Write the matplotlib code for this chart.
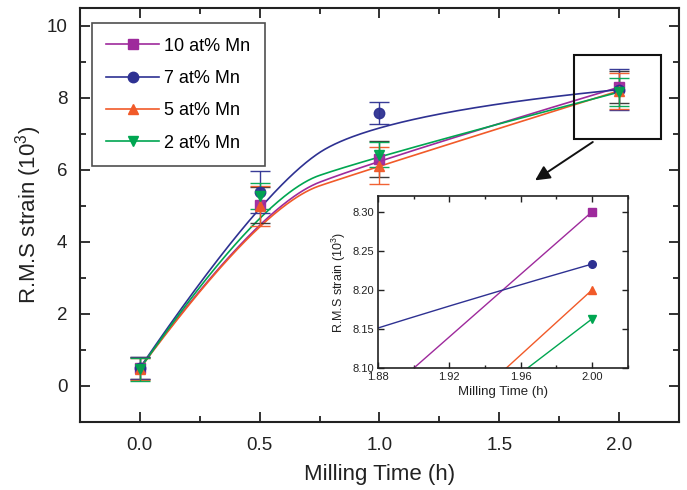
import numpy as np
import matplotlib
matplotlib.use("Agg")
import matplotlib.pyplot as plt
from matplotlib.lines import Line2D
from matplotlib.patches import Rectangle
from matplotlib.ticker import MultipleLocator

plt.rcParams["font.family"] = ["Liberation Sans", "DejaVu Sans"]
plt.rcParams["mathtext.fontset"] = "custom"
plt.rcParams["mathtext.rm"] = "Liberation Sans"
plt.rcParams["mathtext.default"] = "regular"

# ── Data ──
milling_time = [0.0, 0.5, 1.0, 2.0]
labels = ["10 at% Mn", "7 at% Mn", "5 at% Mn", "2 at% Mn"]
strain_10 = [0.50, 5.02, 6.30, 8.300]
strain_7 = [0.50, 5.39, 7.58, 8.233]
strain_5 = [0.48, 5.00, 6.12, 8.200]
strain_2 = [0.47, 5.28, 6.42, 8.163]
err_10 = [0.30, 0.50, 0.50, 0.45]
err_7 = [0.30, 0.58, 0.30, 0.57]
err_5 = [0.30, 0.55, 0.52, 0.50]
err_2 = [0.32, 0.37, 0.35, 0.38]

colors = ["#9E2A9C", "#2E3192", "#F15A29", "#00A651"]
err_colors = ["#333333", "#2E3192", "#F15A29", "#00A651"]
markers = ["s", "o", "^", "v"]
series = [strain_10, strain_7, strain_5, strain_2]
errors = [err_10, err_7, err_5, err_2]


def bspline2(xs, ys, n=120):
    """Clamped quadratic B-spline with the data points as control points."""
    pts = np.column_stack([xs, ys]).astype(float)
    mids = [(pts[i] + pts[i + 1]) / 2 for i in range(1, len(pts) - 2)]
    starts = [pts[0]] + mids
    ends = mids + [pts[-1]]
    s = np.linspace(0, 1, n)[:, None]
    out = []
    for k in range(len(starts)):
        p0, p1, p2 = starts[k], pts[k + 1], ends[k]
        out.append((1 - s) ** 2 * p0 + 2 * s * (1 - s) * p1 + s ** 2 * p2)
    curve = np.vstack(out)
    return curve[:, 0], curve[:, 1]


fig = plt.figure(figsize=(6.87, 4.90), dpi=100)
ax = fig.add_axes([0.1164, 0.1388, 0.8719, 0.8449])

for ys, es, c, ec, m in zip(series, errors, colors, err_colors, markers):
    cx, cy = bspline2(milling_time, ys)
    ax.plot(cx, cy, color=c, linewidth=1.2, zorder=2)
    ax.errorbar(milling_time, ys, yerr=es, fmt=m, color=c, ecolor=ec,
                markersize=7.5, elinewidth=1.0, capsize=7, capthick=1.0,
                alpha=0.95, zorder=3)

ax.set_xlim(-0.25, 2.25)
ax.set_ylim(-1.0, 10.5)
ax.xaxis.set_major_locator(MultipleLocator(0.5))
ax.xaxis.set_minor_locator(MultipleLocator(0.25))
ax.yaxis.set_major_locator(MultipleLocator(2))
ax.yaxis.set_minor_locator(MultipleLocator(1))
ax.tick_params(which="both", direction="in", top=True, right=True,
               width=1.3, colors="#222222", labelcolor="#222222")
ax.tick_params(which="major", length=7, labelsize=13.5)
ax.tick_params(axis="x", which="major", pad=11)
ax.tick_params(axis="y", which="major", pad=9)
ax.tick_params(which="minor", length=4)
for sp in ax.spines.values():
    sp.set_linewidth(1.5)
    sp.set_color("#222222")
ax.set_xlabel("Milling Time (h)", fontsize=16, color="#222222", labelpad=7)
ax.set_ylabel("R.M.S strain (10$^3$)", fontsize=16, color="#222222", labelpad=2)

handles = [Line2D([], [], color=c, marker=m, markersize=7.5, linewidth=1.2)
           for c, m in zip(colors, markers)]
ax.legend(handles, labels, loc="upper left", bbox_to_anchor=(0.02, 0.963),
          borderaxespad=0, fontsize=13, frameon=True, fancybox=False,
          edgecolor="#222222", handlelength=2.9, labelspacing=0.85,
          borderpad=0.8, handletextpad=0.3).get_frame().set_linewidth(1.2)

# zoom box and arrow
ax.add_patch(Rectangle((1.81, 6.86), 0.365, 2.33, fill=False,
                       edgecolor="#111111", linewidth=1.5, zorder=4))
ax.annotate("", xy=(1.64, 5.67), xytext=(1.90, 6.82),
            arrowprops=dict(arrowstyle="-|>", color="#111111", lw=1.4,
                            mutation_scale=22), zorder=4)

# ── Inset ──
ins = fig.add_axes([0.550, 0.249, 0.364, 0.351])
for ys, c, m in zip(series, colors, markers):
    cx, cy = bspline2(milling_time, ys, n=400)
    ins.plot(cx, cy, color=c, linewidth=1.0)
    ins.plot(milling_time[-1], ys[-1], marker=m, color=c, markersize=5.5,
             linestyle="none")
ins.set_xlim(1.88, 2.02)
ins.set_ylim(8.10, 8.32)
ins.set_xticks([1.88, 1.92, 1.96, 2.00])
ins.set_xticklabels(["1.88", "1.92", "1.96", "2.00"])
ins.xaxis.set_minor_locator(MultipleLocator(0.02))
ins.set_yticks([8.10, 8.15, 8.20, 8.25, 8.30])
ins.set_yticklabels(["8.10", "8.15", "8.20", "8.25", "8.30"])
ins.tick_params(which="both", direction="in", top=True, right=True,
                width=1.0, colors="#222222", labelsize=8, pad=3)
ins.tick_params(which="major", length=4)
ins.tick_params(which="minor", length=2.5)
for sp in ins.spines.values():
    sp.set_linewidth(1.2)
    sp.set_color("#222222")
ins.set_xlabel("Milling Time (h)", fontsize=9.5, color="#222222", labelpad=3)
ins.set_ylabel("R.M.S strain (10$^3$)", fontsize=9, color="#222222", labelpad=3)

fig.savefig("out.png", dpi=100)
plt.close(fig)
